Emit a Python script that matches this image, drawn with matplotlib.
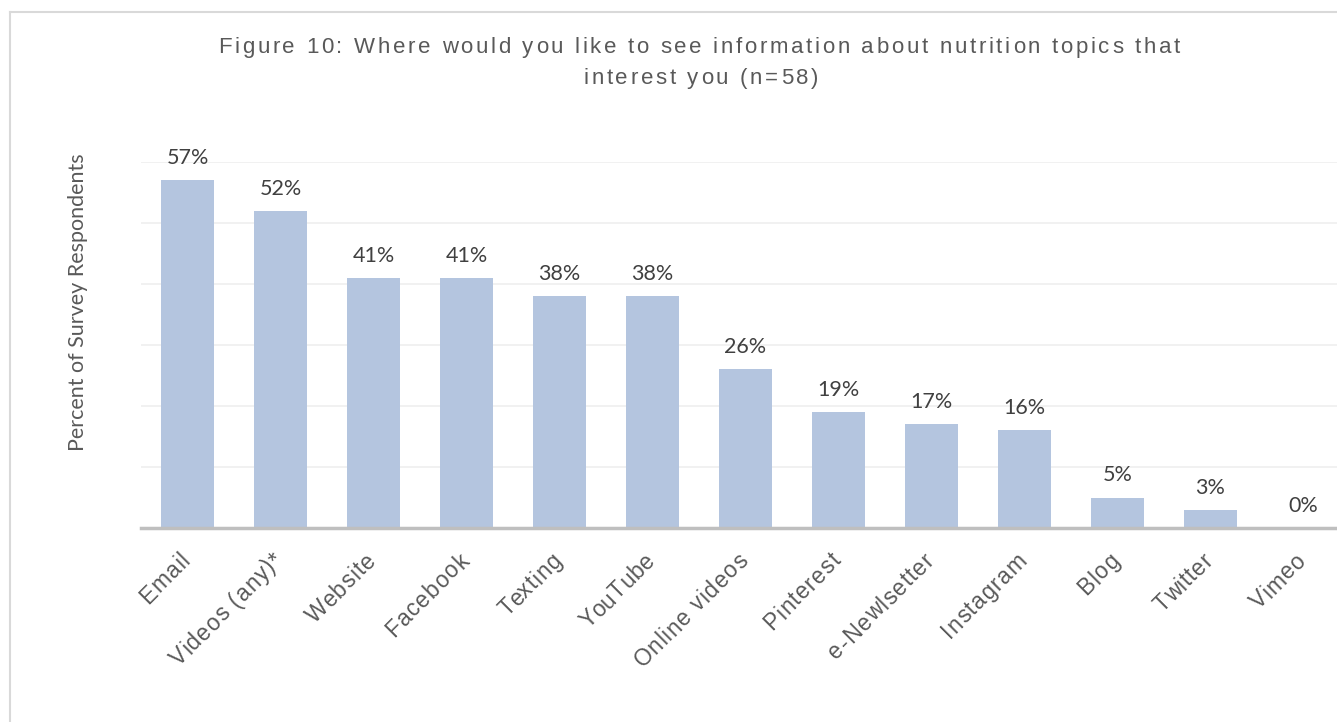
import numpy as np
import matplotlib.pyplot as plt
from matplotlib.lines import Line2D
from matplotlib.font_manager import FontProperties

# 数据
categories = ['Email', 'Videos (any)*', 'Website', 'Facebook', 'Texting', 'YouTube',
              'Online videos', 'Pinterest', 'e-Newlsetter', 'Instagram', 'Blog',
              'Twitter', 'Vimeo']
percents = [57, 52, 41, 41, 38, 38, 26, 19, 17, 16, 5, 3, 0]
gridlines = [10, 20, 30, 40, 50, 60]
title_lines = ['Figure 10: Where would you like to see information about nutrition topics that',
               'interest you (n=58)']

W, H = 1337, 722
GRAY = '#595959'
fig = plt.figure(figsize=(W / 100, H / 100), dpi=100)
fig.patch.set_facecolor('white')
renderer = fig.canvas.get_renderer()

# 外框 (左边和上边)
fig.add_artist(Line2D([10 / W, 10 / W], [0, 1 - 12 / H], color='#D9D9D9', lw=1.5))
fig.add_artist(Line2D([10 / W, 1], [1 - 12 / H, 1 - 12 / H], color='#D9D9D9', lw=1.5))

ax = fig.add_axes([141 / W, 1 - 528 / H, 1209 / W, 366 / H])
x = list(range(len(categories)))
ax.bar(x, percents, width=0.56, color='#B4C5DF', zorder=2)
ax.set_xlim(-0.5, len(categories) - 0.5)
ax.set_ylim(0, 60)

for g in gridlines:
    ax.axhline(g, color='#EFEFEF', lw=1.2, zorder=1)
ax.axhline(0, color='#BFBFBF', lw=2.5, zorder=3, clip_on=False)

for xi, v in zip(x, percents):
    ax.text(xi, v + 2.0, f'{v}%', ha='center', va='bottom', fontsize=15.5,
            color='#404040', family='Lato', clip_on=False)

for s in ax.spines.values():
    s.set_visible(False)
ax.set_yticks([])
ax.set_xticks([])

fig.text(78 / W, 1 - 302 / H, 'Percent of Survey Respondents', rotation=90,
         ha='center', va='center', fontsize=15.5, color=GRAY, family='Lato')


# 字间距较宽的文字, 逐字放置
def text_width(s, prop):
    t = plt.Text(0, 0, s + '|', fontproperties=prop)
    t.set_figure(fig)
    w1 = t.get_window_extent(renderer).width
    t2 = plt.Text(0, 0, '|', fontproperties=prop)
    t2.set_figure(fig)
    return w1 - t2.get_window_extent(renderer).width


def spaced_text(s, xc, y, prop, spacing):
    total = text_width(s, prop) + spacing * (len(s) - 1)
    x0 = xc - total / 2
    for i, ch in enumerate(s):
        xp = x0 + text_width(s[:i], prop) + spacing * i
        fig.text(xp / W, 1 - y / H, ch, ha='left', va='baseline',
                 fontproperties=prop, color=GRAY)


def spaced_rotated(s, xe, ye, prop, spacing, angle=45):
    # (xe, ye): 文字末端 (像素, 原点在左下)
    total = text_width(s, prop) + spacing * (len(s) - 1)
    c, sn = np.cos(np.radians(angle)), np.sin(np.radians(angle))
    for i, ch in enumerate(s):
        d = text_width(s[:i], prop) + spacing * i - total
        fig.text((xe + d * c) / W, (ye + d * sn) / H, ch, rotation=angle,
                 rotation_mode='anchor', ha='left', va='center',
                 fontproperties=prop, color=GRAY)


tprop = FontProperties(family='Liberation Sans', size=16)
spacing = max(0, (962 - text_width(title_lines[0], tprop)) / (len(title_lines[0]) - 1))
spaced_text(title_lines[0], 699, 53, tprop, spacing)
spaced_text(title_lines[1], 701, 84, tprop, spacing)

# x轴标签
lprop = FontProperties(family='Liberation Sans', size=16.5)
for xi, lab in zip(x, categories):
    px = ax.transData.transform((xi, 0))[0]
    spaced_rotated(lab, px - 1, H - 557, lprop, 1.0)

fig.savefig('out.png', dpi=100)
